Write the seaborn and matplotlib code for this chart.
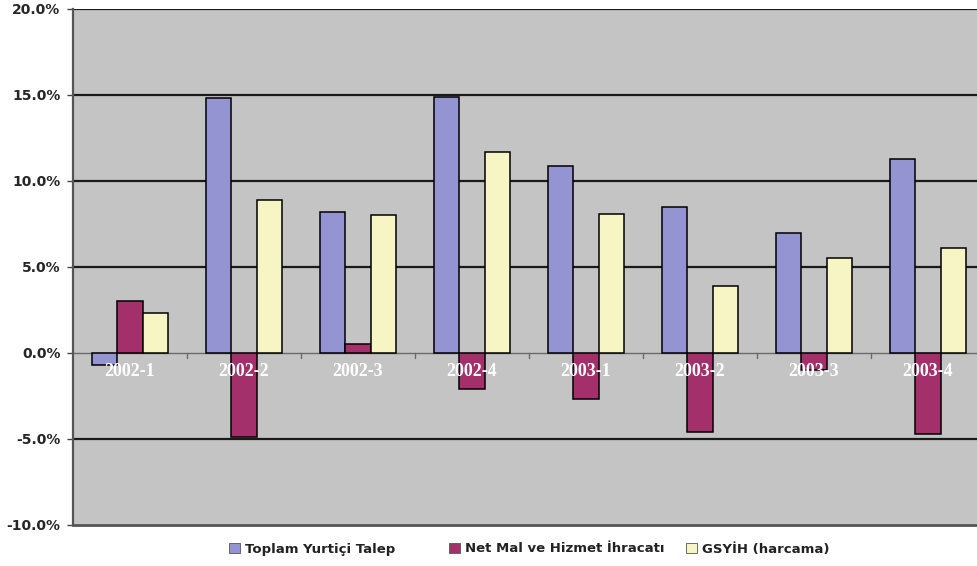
import matplotlib
matplotlib.use("Agg")
import matplotlib.pyplot as plt
import seaborn as sns
import pandas as pd
from matplotlib.patches import Patch
from matplotlib.ticker import FuncFormatter

# Quarterly growth contributions (%)
quarters = ["2002-1", "2002-2", "2002-3", "2002-4",
            "2003-1", "2003-2", "2003-3", "2003-4"]
series_names = ["Toplam Yurtiçi Talep", "Net Mal ve Hizmet İhracatı", "GSYİH (harcama)"]
domestic_demand = [-0.7, 14.8, 8.2, 14.9, 10.9, 8.5, 7.0, 11.3]
net_exports = [3.0, -4.9, 0.5, -2.1, -2.7, -4.6, -1.0, -4.7]
gdp_expenditure = [2.35, 8.9, 8.0, 11.7, 8.1, 3.9, 5.5, 6.1]
y_ticks = [-10, -5, 0, 5, 10, 15, 20]

colors = ["#9494d2", "#a3306a", "#f7f5c4"]

df = pd.DataFrame({
    "quarter": quarters * 3,
    "series": [series_names[0]] * 8 + [series_names[1]] * 8 + [series_names[2]] * 8,
    "value": domestic_demand + net_exports + gdp_expenditure,
})

sns.set_theme(style="white")
plt.rcParams["font.family"] = ["DejaVu Sans"]

fig = plt.figure(figsize=(9.78, 5.66), dpi=100)
ax = fig.add_axes([73 / 978, 1 - 525 / 566, 912 / 978, 516 / 566])
ax.set_facecolor("#c4c4c4")

sns.barplot(data=df, x="quarter", y="value", hue="series", order=quarters,
            hue_order=series_names, palette=colors, width=0.67,
            edgecolor="black", linewidth=1.1, saturation=1, ax=ax,
            legend=False, zorder=3)

ax.set_ylim(-10, 20)
ax.set_xlim(-0.5, len(quarters) - 0.5)
ax.set_yticks(y_ticks)
ax.yaxis.set_major_formatter(FuncFormatter(lambda v, p: f"{v:.1f}%"))
ax.tick_params(axis="y", which="major", left=True, length=4, width=1,
               color="#444444", pad=5, labelsize=10, labelcolor="#262626")
for lbl in ax.get_yticklabels():
    lbl.set_fontweight("bold")

# Horizontal gridlines
for v in y_ticks[1:]:
    if v != 0:
        ax.axhline(v, color="#1a1a1a", linewidth=1.6, zorder=1)
ax.axhline(0, color="#6a6a6a", linewidth=1.0, zorder=2)

# Category separators on the zero line
for i in range(1, len(quarters)):
    ax.plot([i - 0.5, i - 0.5], [0, -0.3], color="#6a6a6a", linewidth=1.0, zorder=2)

ax.set_xticks([])
ax.set_xlabel("")
ax.set_ylabel("")

# Category labels sit inside the plot just under the zero line
for i, q in enumerate(quarters):
    ax.text(i, -1.05, q, ha="center", va="center", color="white",
            fontsize=13, fontweight="bold", family=["Liberation Serif"], zorder=4)

for side in ["top", "right"]:
    ax.spines[side].set_visible(False)
ax.spines["left"].set_color("#555555")
ax.spines["left"].set_linewidth(1.6)
ax.spines["bottom"].set_color("#555555")
ax.spines["bottom"].set_linewidth(2.0)

# One legend entry per series, spread along the bottom
legend_x = [229, 449, 686]
for name, c, xpix in zip(series_names, colors, legend_x):
    h = Patch(facecolor=c, edgecolor="#555555", linewidth=0.6)
    leg = fig.legend([h], [name], loc="center left",
                     bbox_to_anchor=(xpix / 978, 1 - 549 / 566),
                     frameon=False, fontsize=9.5, handlelength=0.85, handleheight=0.85,
                     handletextpad=0.35, borderpad=0, borderaxespad=0)
    for t in leg.get_texts():
        t.set_fontweight("bold")
        t.set_color("#222222")

fig.savefig("out.png", dpi=100, facecolor="white")
